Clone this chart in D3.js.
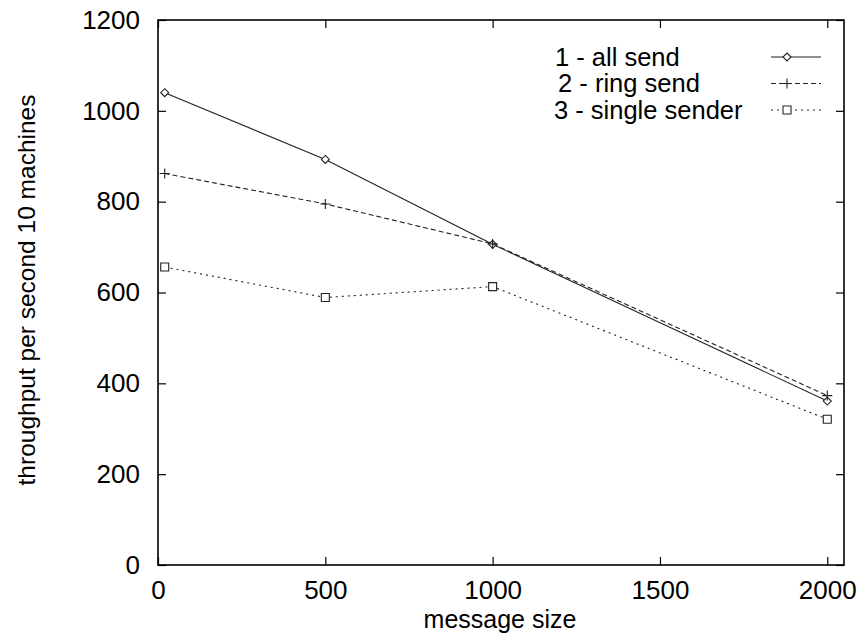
<!DOCTYPE html>
<html>
<head>
<meta charset="utf-8">
<script src="https://cdn.jsdelivr.net/npm/d3@7"></script>
<style>
  body { margin: 0; background: #fff; }
  text { font-family: "Liberation Sans", Arial, sans-serif; fill: #000; }
</style>
</head>
<body>
<div id="wrapper"></div>
<script>
const messageSizes = [20, 500, 1000, 2000]
const allSend = [1040, 893, 706, 361]
const ringSend = [862, 795, 707, 373]
const singleSender = [656, 589, 613, 321]
const xTicks = [0, 500, 1000, 1500, 2000]
const yTicks = [0, 200, 400, 600, 800, 1000, 1200]
const seriesNames = ["1 - all send", " 2 - ring send", "3 - single sender"]

function drawChart() {
  const dimensions = {
    width: 860,
    height: 635,
    margin: { top: 20, right: 16, bottom: 70, left: 158 }
  }
  dimensions.boundedWidth = dimensions.width - dimensions.margin.left - dimensions.margin.right
  dimensions.boundedHeight = dimensions.height - dimensions.margin.top - dimensions.margin.bottom

  const wrapper = d3.select("#wrapper")
    .append("svg")
      .attr("width", dimensions.width)
      .attr("height", dimensions.height)

  const bounds = wrapper.append("g")
    .attr("transform", `translate(${dimensions.margin.left},${dimensions.margin.top})`)

  const xScale = d3.scaleLinear()
    .domain([0, 2050])
    .range([0, dimensions.boundedWidth])

  const yScale = d3.scaleLinear()
    .domain([0, 1200])
    .range([dimensions.boundedHeight, 0])

  const tickLen = 8
  const fontSize = 26

  // axes with inside ticks, mirrored on the opposite side
  bounds.append("g")
    .attr("transform", `translate(0,${dimensions.boundedHeight})`)
    .call(d3.axisBottom(xScale).tickValues(xTicks).tickFormat(d3.format("d"))
      .tickSizeInner(-tickLen).tickSizeOuter(0).tickPadding(16))
  bounds.append("g")
    .call(d3.axisTop(xScale).tickValues(xTicks).tickSizeInner(-tickLen).tickSizeOuter(0).tickFormat(""))
  bounds.append("g")
    .call(d3.axisLeft(yScale).tickValues(yTicks).tickFormat(d3.format("d"))
      .tickSizeInner(-tickLen).tickSizeOuter(0).tickPadding(18))
  bounds.append("g")
    .attr("transform", `translate(${dimensions.boundedWidth},0)`)
    .call(d3.axisRight(yScale).tickValues(yTicks).tickSizeInner(-tickLen).tickSizeOuter(0).tickFormat(""))

  bounds.selectAll(".domain").remove()
  bounds.selectAll(".tick line").attr("stroke", "#000").attr("stroke-width", 1.2)
  bounds.selectAll(".tick text")
    .style("font-family", "'Liberation Sans', Arial, sans-serif")
    .style("font-size", fontSize + "px")
    .attr("fill", "#000")

  bounds.append("rect")
    .attr("width", dimensions.boundedWidth)
    .attr("height", dimensions.boundedHeight)
    .attr("fill", "none")
    .attr("stroke", "#000")
    .attr("stroke-width", 1.6)

  // axis titles
  wrapper.append("text")
    .attr("x", 500)
    .attr("y", 628)
    .attr("text-anchor", "middle")
    .style("font-size", "25px")
    .text("message size")

  wrapper.append("text")
    .attr("transform", "translate(35,290) rotate(-90)")
    .attr("text-anchor", "middle")
    .style("font-size", "24.5px")
    .text("throughput per second 10 machines")

  const diamond = (x, y) => `M${x},${y - 4}L${x + 4},${y}L${x},${y + 4}L${x - 4},${y}Z`
  const plus = (x, y) => `M${x - 5},${y}H${x + 5}M${x},${y - 5}V${y + 5}`
  const square = (x, y) => `M${x - 4},${y - 4}h8v8h-8Z`

  const series = [
    { values: allSend, dash: null, marker: diamond },
    { values: ringSend, dash: "5,3", marker: plus },
    { values: singleSender, dash: "2,4", marker: square }
  ]

  const lineGenerator = d3.line()
    .x(d => xScale(d[0]))
    .y(d => yScale(d[1]))

  series.forEach((s, i) => {
    const points = messageSizes.map((m, j) => [m, s.values[j]])
    bounds.append("path")
      .datum(points)
      .attr("d", lineGenerator)
      .attr("fill", "none")
      .attr("stroke", "#222")
      .attr("stroke-width", 1.1)
      .attr("stroke-dasharray", s.dash)

    bounds.selectAll(null)
      .data(points)
      .enter().append("path")
        .attr("d", d => s.marker(xScale(d[0]), yScale(d[1])))
        .attr("fill", "#fff")
        .attr("stroke", "#222")
        .attr("stroke-width", 1.1)

    // legend row
    const ly = 57 + i * 26.5
    const textX = [555, 551, 554][i]
    wrapper.append("text")
      .attr("x", textX)
      .attr("y", ly)
      .attr("dy", "0.35em")
      .style("font-size", "25.5px")
      .style("white-space", "pre")
      .text(seriesNames[i])
    wrapper.append("line")
      .attr("x1", 771)
      .attr("x2", 821)
      .attr("y1", ly)
      .attr("y2", ly)
      .attr("stroke", "#222")
      .attr("stroke-width", 1.1)
      .attr("stroke-dasharray", s.dash)
    wrapper.append("path")
      .attr("d", s.marker(787, ly))
      .attr("fill", "#fff")
      .attr("stroke", "#222")
      .attr("stroke-width", 1.1)
  })
}

drawChart()
</script>
</body>
</html>
